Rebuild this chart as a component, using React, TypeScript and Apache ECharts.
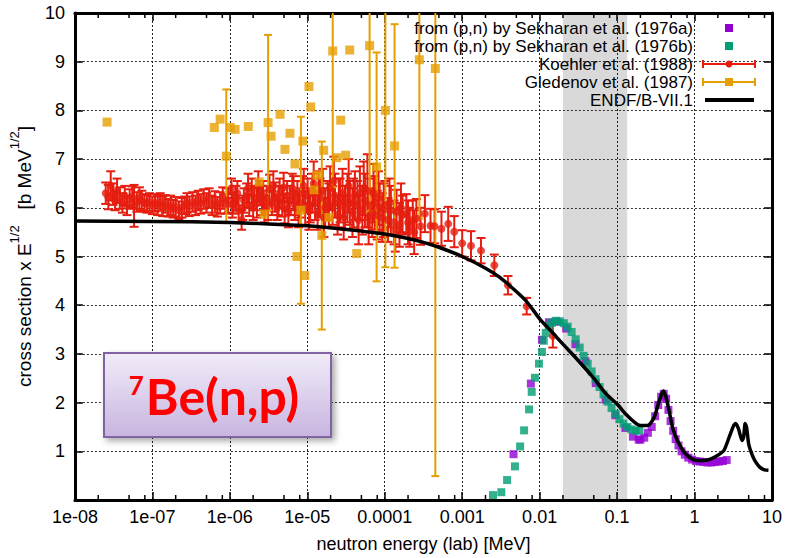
import { useEffect, useRef } from "react";
import * as echarts from "echarts";

const FONT = '"Liberation Sans", Arial, sans-serif';
const PURPLE = "#9400d3";
const GREEN = "#009e73";
const RED = "#e51e10";
const ORANGE = "#e69f00";

const xTickLabels = ["1e-08", "1e-07", "1e-06", "1e-05", "0.0001", "0.001", "0.01", "0.1", "1", "10"];
const yTickLabels = ["", "1", "2", "3", "4", "5", "6", "7", "8", "9", "10"];
const minorTickE = [
  2e-8, 5e-8, 8e-8, 2e-7, 5e-7, 8e-7, 2e-6, 5e-6, 8e-6, 2e-5, 5e-5, 8e-5,
  2e-4, 5e-4, 8e-4, 2e-3, 5e-3, 8e-3, 2e-2, 5e-2, 8e-2, 0.2, 0.5, 0.8, 2, 5, 8,
];
const bandRange = [0.02, 0.135];

const legendLabels = [
  "from (p,n) by Sekharan et al. (1976a)",
  "from (p,n) by Sekharan et al. (1976b)",
  "Koehler et al. (1988)",
  "Gledenov et al. (1987)",
  "ENDF/B-VII.1",
];

// Sekharan (1976a): energy [MeV], value
const sekharanAE = [
  4.6e-3, 7.7e-3, 1.07e-2, 1.32e-2, 1.66e-2, 2.2e-2, 2.9e-2, 3.9e-2, 5.3e-2, 7.1e-2, 9.5e-2, 0.128,
  0.16, 0.19, 0.2, 0.224, 0.25, 0.28, 0.31, 0.34, 0.37, 0.4, 0.43, 0.46, 0.49, 0.53, 0.57, 0.62,
  0.68, 0.75, 0.83, 0.93, 1.04, 1.17, 1.31, 1.47, 1.65, 1.85, 2.07, 2.32, 2.6,
];
const sekharanAV = [
  0.94, 2.39, 3.29, 3.65, 3.66, 3.52, 3.2, 2.85, 2.4, 2.06, 1.74, 1.48,
  1.3, 1.24, 1.24, 1.28, 1.38, 1.5, 1.72, 1.95, 2.12, 2.18, 2.08, 1.85, 1.62, 1.42, 1.25, 1.12,
  1.0, 0.93, 0.87, 0.83, 0.8, 0.79, 0.78, 0.77, 0.77, 0.78, 0.79, 0.8, 0.82,
];

// Sekharan (1976b)
const sekharanBE = [
  2.5e-3, 3.2e-3, 3.8e-3, 4.8e-3, 5.6e-3, 6.3e-3, 7.3e-3, 7.9e-3, 8.7e-3, 9.8e-3, 1.07e-2, 1.13e-2,
  1.2e-2, 1.31e-2, 1.44e-2, 1.61e-2, 1.82e-2, 2.05e-2, 2.3e-2, 2.59e-2, 2.92e-2, 3.29e-2, 3.7e-2,
  4.17e-2, 4.69e-2, 5.27e-2, 5.94e-2, 6.68e-2, 7.53e-2, 8.47e-2, 9.53e-2, 0.107, 0.121, 0.136,
  0.153, 0.173, 0.194,
];
const sekharanBV = [
  0.1, 0.16, 0.41, 0.69, 1.1, 1.43, 1.86, 2.22, 2.51, 2.8, 3.04, 3.27,
  3.43, 3.57, 3.64, 3.68, 3.67, 3.63, 3.56, 3.45, 3.3, 3.13, 2.96,
  2.8, 2.64, 2.48, 2.32, 2.17, 2.02, 1.89, 1.77, 1.66, 1.57, 1.5,
  1.45, 1.42, 1.43,
];

// Koehler (1988): [energy MeV, value, error]
const koehler: [number, number, number][] = [
  [2.5e-8, 6.3, 0.22], [2.7e-8, 6.22, 0.25], [2.9e-8, 6.45, 0.3], [3.1e-8, 6.28, 0.22],
  [3.3e-8, 6.15, 0.2], [3.5e-8, 6.35, 0.25], [3.8e-8, 6.2, 0.22], [4.1e-8, 6.1, 0.2],
  [4.4e-8, 6.25, 0.2], [4.7e-8, 6.05, 0.2], [5.1e-8, 6.18, 0.2], [5.5e-8, 6.22, 0.22],
  [5.8e-8, 6.04, 0.43], [6.3e-8, 6.12, 0.2], [6.8e-8, 6.2, 0.22], [7.3e-8, 6.15, 0.2],
  [7.9e-8, 6.1, 0.18], [8.5e-8, 6.08, 0.18], [9.2e-8, 6.12, 0.18], [1.0e-7, 6.05, 0.18],
  [1.08e-7, 6.1, 0.18], [1.17e-7, 6.05, 0.2], [1.26e-7, 6.12, 0.18], [1.36e-7, 6.03, 0.2],
  [1.47e-7, 6.08, 0.18], [1.59e-7, 6.0, 0.18], [1.72e-7, 6.05, 0.2], [1.86e-7, 5.98, 0.18],
  [2.0e-7, 6.02, 0.2], [2.2e-7, 5.95, 0.18], [2.4e-7, 6.0, 0.2], [2.6e-7, 6.05, 0.18],
  [2.8e-7, 6.1, 0.2], [3.0e-7, 6.03, 0.2], [3.3e-7, 6.12, 0.2], [3.6e-7, 6.05, 0.2],
  [3.9e-7, 6.15, 0.2], [4.2e-7, 6.08, 0.2], [4.6e-7, 6.18, 0.2], [5.0e-7, 6.1, 0.2],
  [5.4e-7, 6.2, 0.2], [5.9e-7, 6.05, 0.2], [6.4e-7, 6.12, 0.22], [6.9e-7, 6.02, 0.2],
  [7.5e-7, 6.1, 0.22], [8.1e-7, 6.2, 0.22], [8.8e-7, 6.08, 0.2], [9.5e-7, 6.15, 0.25],
  [1.05e-6, 6.4, 0.2], [1.08e-6, 6.05, 0.25], [1.12e-6, 6.1, 0.22], [1.2e-6, 6.2, 0.25],
  [1.25e-6, 6.3, 0.25], [1.3e-6, 5.95, 0.25], [1.42e-6, 5.75, 0.2], [1.47e-6, 6.0, 0.25],
  [1.52e-6, 6.15, 0.25], [1.65e-6, 6.25, 0.25], [1.72e-6, 6.4, 0.3], [1.78e-6, 6.05, 0.22],
  [1.92e-6, 6.35, 0.25], [2.0e-6, 6.0, 0.25], [2.07e-6, 6.2, 0.25], [2.24e-6, 6.1, 0.3],
  [2.33e-6, 6.45, 0.3], [2.42e-6, 6.3, 0.25], [2.6e-6, 6.15, 0.3], [2.7e-6, 6.25, 0.3],
  [2.8e-6, 5.95, 0.25], [3.0e-6, 6.2, 0.25], [3.12e-6, 6.05, 0.3], [3.25e-6, 6.38, 0.3],
  [3.5e-6, 6.1, 0.25], [3.65e-6, 6.45, 0.3], [3.8e-6, 6.22, 0.3], [4.1e-6, 6.0, 0.25],
  [4.25e-6, 6.15, 0.3], [4.4e-6, 6.3, 0.3], [4.75e-6, 6.12, 0.3], [4.95e-6, 6.42, 0.3],
  [5.1e-6, 5.98, 0.3], [5.5e-6, 6.25, 0.3], [5.7e-6, 5.9, 0.3], [5.95e-6, 6.15, 0.3],
  [6.4e-6, 6.4, 0.3], [6.65e-6, 6.3, 0.35], [6.9e-6, 6.05, 0.3], [7.45e-6, 6.2, 0.35],
  [7.7e-6, 5.95, 0.35], [8.0e-6, 6.1, 0.3], [8.7e-6, 6.3, 0.35], [9.0e-6, 6.45, 0.35],
  [9.4e-6, 6.0, 0.35],
  [1.01e-5, 6.25, 0.35], [1.05e-5, 5.95, 0.4], [1.09e-5, 6.05, 0.35], [1.17e-5, 6.3, 0.4],
  [1.21e-5, 6.5, 0.45], [1.26e-5, 6.1, 0.35], [1.36e-5, 5.9, 0.35], [1.4e-5, 6.3, 0.45],
  [1.46e-5, 6.2, 0.4], [1.58e-5, 6.35, 0.45], [1.64e-5, 5.8, 0.4], [1.7e-5, 6.0, 0.4],
  [1.83e-5, 6.15, 0.4], [1.9e-5, 6.05, 0.45], [1.97e-5, 6.4, 0.45], [2.12e-5, 6.05, 0.4],
  [2.2e-5, 6.55, 0.5], [2.28e-5, 6.25, 0.45], [2.46e-5, 5.85, 0.4], [2.55e-5, 6.1, 0.5],
  [2.65e-5, 6.15, 0.45], [2.85e-5, 6.3, 0.5], [2.95e-5, 5.8, 0.45], [3.07e-5, 6.0, 0.45],
  [3.3e-5, 6.2, 0.5], [3.42e-5, 6.45, 0.55], [3.55e-5, 6.1, 0.45], [3.83e-5, 5.9, 0.5],
  [3.95e-5, 6.1, 0.5], [4.12e-5, 6.25, 0.5], [4.44e-5, 6.05, 0.5], [4.6e-5, 5.75, 0.5],
  [4.78e-5, 6.3, 0.55], [5.15e-5, 5.95, 0.5], [5.35e-5, 6.4, 0.55], [5.55e-5, 6.15, 0.55],
  [5.97e-5, 6.35, 0.75], [6.2e-5, 5.8, 0.55], [6.4e-5, 6.05, 0.55], [6.9e-5, 5.9, 0.5],
  [7.15e-5, 6.3, 0.6], [7.45e-5, 6.1, 0.55], [8.0e-5, 5.85, 0.5], [8.3e-5, 6.2, 0.55],
  [8.6e-5, 6.0, 0.5], [9.3e-5, 5.8, 0.5], [9.7e-5, 5.95, 0.55],
  [1.0e-4, 6.05, 0.5], [1.1e-4, 5.75, 0.45], [1.15e-4, 6.1, 0.5], [1.2e-4, 5.95, 0.5],
  [1.32e-4, 5.7, 0.45], [1.37e-4, 5.55, 0.45], [1.42e-4, 5.92, 0.45], [1.55e-4, 5.65, 0.45],
  [1.62e-4, 6.0, 0.5], [1.7e-4, 5.85, 0.4], [1.9e-4, 5.88, 0.4], [2.0e-4, 5.7, 0.45],
  [2.1e-4, 5.6, 0.4], [2.3e-4, 5.75, 0.4], [2.4e-4, 5.5, 0.45], [2.56e-4, 5.78, 0.4],
  [2.9e-4, 5.62, 0.38], [3.3e-4, 5.88, 0.38], [3.9e-4, 5.63, 0.35], [4.4e-4, 5.62, 0.35],
  [5.4e-4, 5.57, 0.35], [6.6e-4, 5.67, 0.35], [7.9e-4, 5.51, 0.32], [1.0e-3, 5.27, 0.27],
  [1.3e-3, 5.22, 0.3], [1.75e-3, 5.12, 0.26], [2.6e-3, 4.82, 0.22], [3.9e-3, 4.41, 0.19],
  [6.8e-3, 3.98, 0.17], [1.48e-2, 3.37, 0.24],
];

// Gledenov (1987): energy, value, error (0 = no bar)
const gledenovE = [
  2.6e-8, 6.3e-7, 7.5e-7, 9.0e-7, 1.01e-6, 1.17e-6, 1.73e-6, 2.39e-6, 2.77e-6, 3.12e-6, 3.41e-6,
  4.45e-6, 5.15e-6, 5.97e-6, 6.93e-6, 7.35e-6, 8.27e-6, 8.78e-6, 9.3e-6, 1.05e-5, 1.11e-5, 1.22e-5,
  1.33e-5, 1.54e-5, 1.63e-5, 1.9e-5, 2.13e-5, 2.4e-5, 2.7e-5, 3.13e-5, 3.53e-5, 4.35e-5, 6.38e-5,
  7.85e-5, 1.02e-4, 1.34e-4, 2.8e-4, 4.5e-4,
];
const gledenovV = [
  7.76, 7.65, 7.82, 7.06, 7.65, 7.61, 7.67, 6.53, 5.87, 7.75, 7.47,
  7.92, 7.2, 7.53, 6.9, 5.0, 5.95, 7.37, 4.61, 8.49, 8.07, 6.37,
  6.67, 5.43, 7.18, 5.8, 9.22, 7.03, 7.8, 7.08, 9.24, 5.06, 9.33,
  6.84, 8.0, 7.27, 9.04, 8.86,
];
const gledenovErr = [
  0, 0, 0, 1.37, 0, 0, 0, 0, 0, 1.8, 0,
  0, 0, 0, 0, 0, 1.92, 0, 0, 0, 0, 0,
  0, 1.93, 0, 0, 2.8, 0, 0, 0, 0, 0, 3.4,
  2.35, 3.22, 2.5, 3.26, 8.37,
];

// ENDF/B-VII.1
const endfE = [
  1e-8, 1e-7, 1e-6, 1e-5, 3e-5, 1e-4, 2e-4, 3e-4, 5e-4, 1e-3, 2e-3, 3e-3, 5e-3, 7e-3, 1e-2, 1.5e-2,
  2e-2, 3e-2, 5e-2, 7e-2, 0.1, 0.13, 0.17, 0.2, 0.25, 0.3, 0.34, 0.38, 0.4, 0.43, 0.47, 0.52, 0.6,
  0.7, 0.8, 1.0, 1.3, 1.6, 2.0, 2.4, 2.8, 3.2, 3.4, 3.7, 4.1, 4.3, 4.5, 4.7, 5.0, 5.5, 6.0, 7.0,
  8.0, 9.0,
];
const endfV = [
  5.73, 5.72, 5.7, 5.63, 5.56, 5.46, 5.37, 5.3, 5.19, 5.0, 4.76, 4.58, 4.28, 4.05, 3.72, 3.42,
  3.2, 2.9, 2.5, 2.2, 1.97, 1.76, 1.59, 1.53, 1.53, 1.69, 1.97, 2.2, 2.24, 2.1, 1.83, 1.49, 1.22,
  1.03, 0.92, 0.82, 0.81, 0.84, 0.92, 1.02, 1.29, 1.53, 1.57, 1.46, 1.22, 1.29, 1.57, 1.49, 1.15,
  0.94, 0.81, 0.67, 0.62, 0.61,
];

function errorBarRenderer(color: string, capHalf: number, width: number) {
  return (_params: any, api: any) => {
    const x = api.value(0);
    const lo = api.value(1);
    const hi = api.value(2);
    const pTop = api.coord([x, hi]);
    const pBot = api.coord([x, lo]);
    const style = { stroke: color, lineWidth: width };
    return {
      type: "group",
      children: [
        { type: "line", shape: { x1: pTop[0], y1: pTop[1], x2: pBot[0], y2: pBot[1] }, style },
        { type: "line", shape: { x1: pTop[0] - capHalf, y1: pTop[1], x2: pTop[0] + capHalf, y2: pTop[1] }, style },
        { type: "line", shape: { x1: pBot[0] - capHalf, y1: pBot[1], x2: pBot[0] + capHalf, y2: pBot[1] }, style },
      ],
    };
  };
}

export default function App() {
  const ref = useRef<HTMLDivElement>(null);

  useEffect(() => {
    if (!ref.current) return;
    const chart = echarts.init(ref.current, undefined, { renderer: "svg" });

    const xLabel = (v: number) => {
      const i = Math.round(Math.log10(v)) + 8;
      return xTickLabels[i] ?? "";
    };

    const baseX = {
      type: "log",
      logBase: 10,
      min: 1e-8,
      max: 10,
      splitNumber: 9,
      axisLine: { show: true, onZero: false, lineStyle: { color: "#000", width: 3 } },
      axisTick: { show: true, inside: true, length: 8, lineStyle: { color: "#000", width: 1.5 } },
    };
    const baseY = {
      type: "value",
      min: 0,
      max: 10,
      interval: 1,
      axisLine: { show: true, onZero: false, lineStyle: { color: "#000", width: 3 } },
      axisTick: { show: true, inside: true, length: 8, lineStyle: { color: "#000", width: 1.5 } },
    };

    const legendRowsY = [28, 46, 64, 82, 100];
    const legendGraphics: any[] = [];
    legendLabels.forEach((label, i) => {
      legendGraphics.push({
        type: "text",
        x: 693,
        y: legendRowsY[i],
        z: 50,
        style: { text: label, fill: "#000", fontSize: 17, fontFamily: FONT, align: "right", verticalAlign: "middle" },
      });
    });
    legendGraphics.push(
      { type: "rect", z: 50, shape: { x: 725, y: legendRowsY[0] - 4, width: 8, height: 8 }, style: { fill: PURPLE } },
      { type: "rect", z: 50, shape: { x: 725, y: legendRowsY[1] - 4, width: 8, height: 8 }, style: { fill: GREEN } },
      { type: "line", z: 50, shape: { x1: 703, y1: legendRowsY[2], x2: 755, y2: legendRowsY[2] }, style: { stroke: RED, lineWidth: 2 } },
      { type: "line", z: 50, shape: { x1: 703, y1: legendRowsY[2] - 4, x2: 703, y2: legendRowsY[2] + 4 }, style: { stroke: RED, lineWidth: 2 } },
      { type: "line", z: 50, shape: { x1: 755, y1: legendRowsY[2] - 4, x2: 755, y2: legendRowsY[2] + 4 }, style: { stroke: RED, lineWidth: 2 } },
      { type: "circle", z: 50, shape: { cx: 729, cy: legendRowsY[2], r: 3.5 }, style: { fill: RED } },
      { type: "line", z: 50, shape: { x1: 703, y1: legendRowsY[3], x2: 755, y2: legendRowsY[3] }, style: { stroke: ORANGE, lineWidth: 2 } },
      { type: "line", z: 50, shape: { x1: 703, y1: legendRowsY[3] - 4, x2: 703, y2: legendRowsY[3] + 4 }, style: { stroke: ORANGE, lineWidth: 2 } },
      { type: "line", z: 50, shape: { x1: 755, y1: legendRowsY[3] - 4, x2: 755, y2: legendRowsY[3] + 4 }, style: { stroke: ORANGE, lineWidth: 2 } },
      { type: "rect", z: 50, shape: { x: 725, y: legendRowsY[3] - 4, width: 8, height: 8 }, style: { fill: ORANGE } },
      { type: "line", z: 50, shape: { x1: 705, y1: legendRowsY[4], x2: 754, y2: legendRowsY[4] }, style: { stroke: "#000", lineWidth: 4 } }
    );

    const labelBox = [
      {
        type: "rect",
        z: 60,
        shape: { x: 104, y: 353, width: 227, height: 84 },
        style: {
          fill: new echarts.graphic.LinearGradient(0, 0, 0, 1, [
            { offset: 0, color: "#f1ecf8" },
            { offset: 1, color: "#c7b5e0" },
          ]),
          stroke: "#8064a2",
          lineWidth: 2,
          shadowBlur: 6,
          shadowOffsetX: 3,
          shadowOffsetY: 3,
          shadowColor: "rgba(0,0,0,0.35)",
        },
      },
      {
        type: "text",
        z: 61,
        x: 214,
        y: 396,
        style: {
          text: "{sup|7}{main|Be(n,p)}",
          align: "center",
          verticalAlign: "middle",
          rich: {
            sup: { fontSize: 26, fontWeight: "bold", fontFamily: "Lato, sans-serif", fill: "#ff0000", lineHeight: 56, verticalAlign: "top", padding: [4, 2, 0, 0] },
            main: { fontSize: 50, fontWeight: "bold", fontFamily: "Lato, sans-serif", fill: "#ff0000", lineHeight: 56, verticalAlign: "middle" },
          },
        },
      },
    ];

    const option: any = {
      animation: false,
      grid: { left: 72, top: 13, width: 700, height: 490, show: false },
      xAxis: [
        {
          ...baseX,
          position: "bottom",
          axisLabel: { formatter: xLabel, color: "#000", fontSize: 18, fontFamily: FONT, margin: 8 },
          splitLine: { show: true, lineStyle: { color: "#222", type: [2, 2], width: 1 } },
          name: "neutron energy (lab) [MeV]",
          nameLocation: "middle",
          nameGap: 35,
          nameTextStyle: { color: "#000", fontSize: 18, fontFamily: FONT },
        },
        {
          ...baseX,
          position: "top",
          axisLabel: { show: false },
          splitLine: { show: false },
        },
      ],
      yAxis: [
        {
          ...baseY,
          position: "left",
          axisLabel: { formatter: (v: number) => yTickLabels[Math.round(v)] ?? "", color: "#000", fontSize: 18, fontFamily: FONT, margin: 10 },
          splitLine: { show: true, lineStyle: { color: "#333", type: [2, 2], width: 1 } },
          name: "{t|cross section x E}{s|1/2}{t|   [b MeV}{s|1/2}{t|]}",
          nameLocation: "middle",
          nameGap: 40,
          nameTextStyle: {
            rich: {
              t: { fontSize: 19, fontFamily: FONT, color: "#000", lineHeight: 26, verticalAlign: "bottom" },
              s: { fontSize: 13, fontFamily: FONT, color: "#000", lineHeight: 26, verticalAlign: "top" },
            },
          },
        },
        {
          ...baseY,
          position: "right",
          axisLabel: { show: false },
          splitLine: { show: false },
        },
      ],
      graphic: [...legendGraphics, ...labelBox],
      series: [
        {
          type: "custom",
          z: -1,
          silent: true,
          data: [[bandRange[0], bandRange[1]]],
          encode: { x: [0, 1] },
          renderItem: (_p: any, api: any) => {
            const a = api.coord([api.value(0), 10]);
            const b = api.coord([api.value(1), 0]);
            return { type: "rect", shape: { x: a[0], y: a[1], width: b[0] - a[0], height: b[1] - a[1] }, style: { fill: "#d9d9d9" } };
          },
        },
        {
          type: "scatter",
          symbol: "rect",
          symbolSize: 8,
          itemStyle: { color: PURPLE },
          data: sekharanAE.map((e, i) => [e, sekharanAV[i]]),
        },
        {
          type: "scatter",
          symbol: "rect",
          symbolSize: 8,
          itemStyle: { color: GREEN },
          data: sekharanBE.map((e, i) => [e, sekharanBV[i]]),
        },
        {
          type: "custom",
          clip: true,
          data: koehler.map((d) => [d[0], d[1] - d[2], d[1] + d[2]]),
          encode: { x: 0, y: [1, 2] },
          renderItem: errorBarRenderer(RED, 4.5, 2),
        },
        {
          type: "scatter",
          symbol: "circle",
          symbolSize: 8,
          itemStyle: { color: RED },
          data: koehler.map((d) => [d[0], d[1]]),
        },
        {
          type: "custom",
          clip: true,
          data: gledenovE
            .map((e, i) => [e, gledenovV[i] - gledenovErr[i], gledenovV[i] + gledenovErr[i], gledenovErr[i]])
            .filter((d) => d[3] > 0),
          encode: { x: 0, y: [1, 2] },
          renderItem: errorBarRenderer(ORANGE, 4, 2),
        },
        {
          type: "scatter",
          symbol: "rect",
          symbolSize: 9,
          itemStyle: { color: ORANGE },
          data: gledenovE.map((e, i) => [e, gledenovV[i]]),
        },
        {
          type: "line",
          showSymbol: false,
          smooth: 0.2,
          lineStyle: { color: "#000", width: 3.5 },
          data: endfE.map((e, i) => [e, endfV[i]]),
        },
        {
          type: "custom",
          silent: true,
          data: minorTickE.map((e) => [e, 0]),
          encode: { x: 0, y: 1 },
          renderItem: (_p: any, api: any) => {
            const b = api.coord([api.value(0), 0]);
            const t = api.coord([api.value(0), 10]);
            const style = { stroke: "#000", lineWidth: 1.5 };
            return {
              type: "group",
              children: [
                { type: "line", shape: { x1: b[0], y1: b[1], x2: b[0], y2: b[1] - 5 }, style },
                { type: "line", shape: { x1: t[0], y1: t[1], x2: t[0], y2: t[1] + 5 }, style },
              ],
            };
          },
        },
      ],
    };

    chart.setOption(option);
    return () => chart.dispose();
  }, []);

  return (
    <div
      ref={ref}
      style={{ position: "fixed", left: 0, top: 0, width: 788, height: 558, background: "#fff" }}
    />
  );
}
